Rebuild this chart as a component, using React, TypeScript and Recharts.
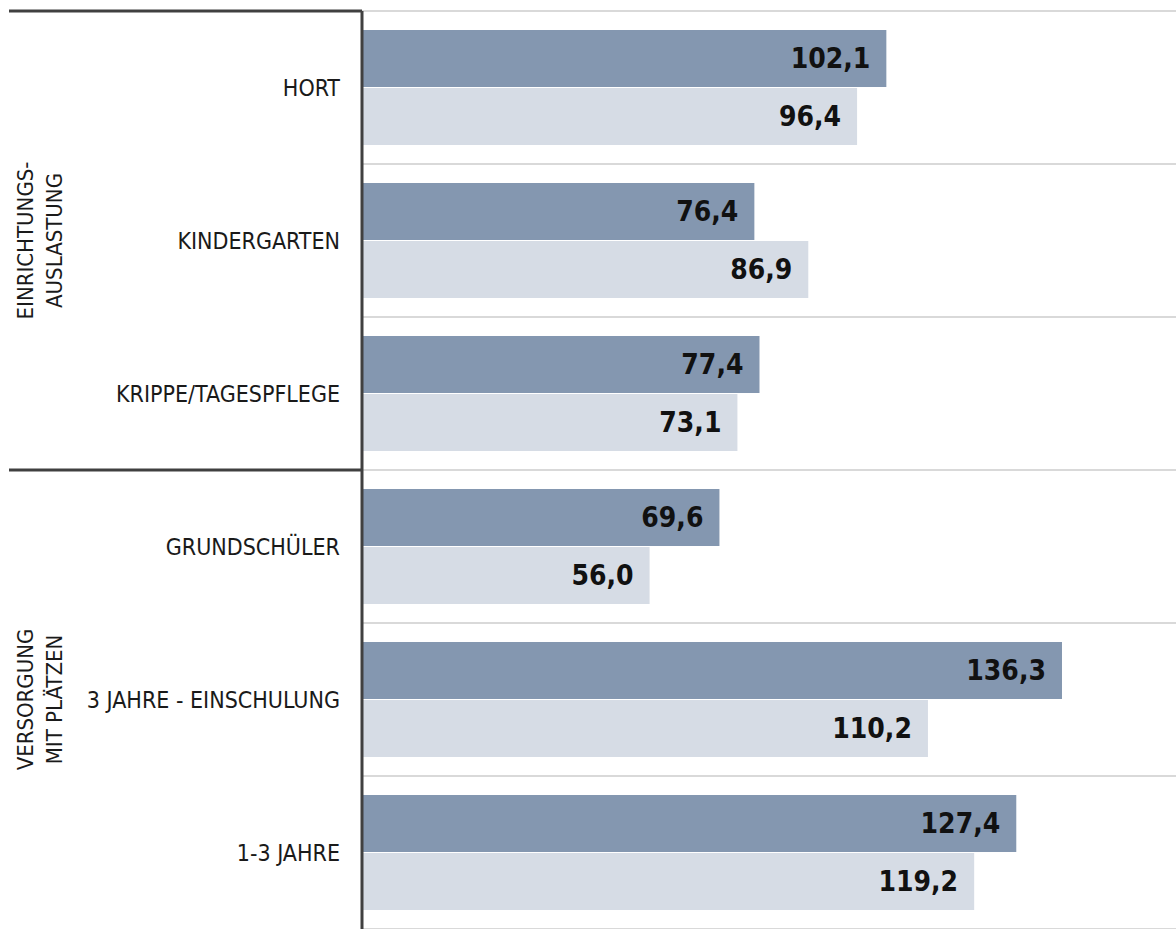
import { Bar, BarChart, CartesianGrid, LabelList, XAxis, YAxis } from "recharts";

const categories = [
  "HORT",
  "KINDERGARTEN",
  "KRIPPE/TAGESPFLEGE",
  "GRUNDSCHÜLER",
  "3 JAHRE - EINSCHULUNG",
  "1-3 JAHRE",
];
const seriesA = [102.1, 76.4, 77.4, 69.6, 136.3, 127.4];
const seriesB = [96.4, 86.9, 73.1, 56.0, 110.2, 119.2];
const groups = [
  { start: 0, size: 3, lines: ["EINRICHTUNGS-", "AUSLASTUNG"] },
  { start: 3, size: 3, lines: ["VERSORGUNG", "MIT PLÄTZEN"] },
];

const data = categories.map((name, i) => ({ name, a: seriesA[i], b: seriesB[i] }));

const FONT = "'DejaVu Sans Condensed', 'DejaVu Sans', sans-serif";
const fmt = (v: unknown) => Number(v).toFixed(1).replace(".", ",");

function CategoryTick(props: any) {
  const { x, y, payload, index } = props;
  const half = payload?.offset ?? 76.5;
  const group = groups.find((g) => g.start === index);
  return (
    <g>
      <text
        x={x - 22}
        y={y}
        textAnchor="end"
        dominantBaseline="central"
        fontFamily={FONT}
        fontSize={23}
        fill="#1a1a1a"
      >
        {payload.value}
      </text>
      {group ? (
        <>
          <line x1={9} x2={x} y1={y - half} y2={y - half} stroke="#404040" strokeWidth={3} />
          {(() => {
            const cy = y - half + group.size * half;
            return (
              <text
                transform={`translate(0, ${cy}) rotate(-90)`}
                textAnchor="middle"
                fontFamily={FONT}
                fontSize={22}
                fill="#1a1a1a"
              >
                {group.lines.map((l, k) => (
                  <tspan key={l} x={0} dy={k === 0 ? 33 : 29}>
                    {l}
                  </tspan>
                ))}
              </text>
            );
          })()}
        </>
      ) : null}
    </g>
  );
}

export default function App() {
  return (
    <div style={{ position: "absolute", left: 0, top: 0, width: 1176, height: 929, overflow: "hidden", background: "#fff" }}>
      <BarChart
        width={1176}
        height={929}
        data={data}
        layout="vertical"
        margin={{ top: 11, right: 0, bottom: 0, left: 0 }}
        barCategoryGap={19}
        barGap={1}
      >
        <CartesianGrid
          vertical={false}
          stroke="#d9d9d9"
          strokeWidth={2}
          horizontalCoordinatesGenerator={({ offset }: any) =>
            Array.from({ length: categories.length + 1 }, (_, i) => offset.top + (i * offset.height) / categories.length)
          }
        />
        <XAxis type="number" domain={[0, 158.5]} hide />
        <YAxis
          type="category"
          dataKey="name"
          width={362}
          tickSize={0}
          tickMargin={0}
          tickLine={false}
          axisLine={{ stroke: "#404040", strokeWidth: 3 }}
          tick={<CategoryTick />}
          interval={0}
        />
        <Bar dataKey="a" fill="#8497b0" isAnimationActive={false}>
          <LabelList
            dataKey="a"
            position="insideRight"
            offset={16}
            formatter={fmt}
            fontFamily={FONT}
            fontWeight="bold"
            fontSize={28}
            fill="#111"
          />
        </Bar>
        <Bar dataKey="b" fill="#d6dce5" isAnimationActive={false}>
          <LabelList
            dataKey="b"
            position="insideRight"
            offset={16}
            formatter={fmt}
            fontFamily={FONT}
            fontWeight="bold"
            fontSize={28}
            fill="#111"
          />
        </Bar>
      </BarChart>
    </div>
  );
}
